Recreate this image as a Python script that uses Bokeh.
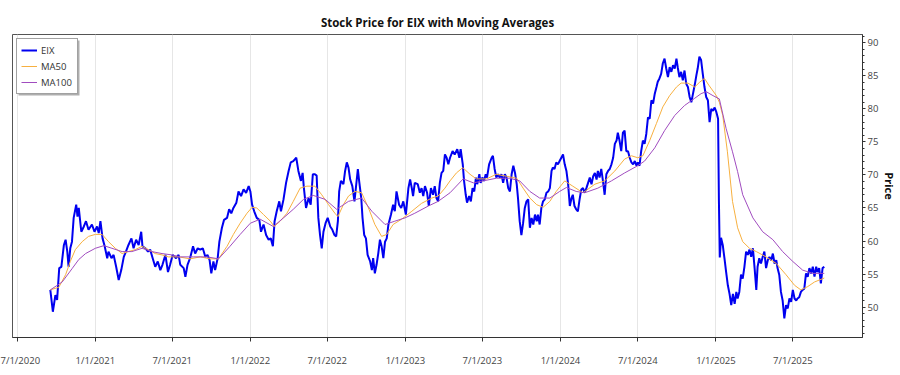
import pandas as pd
from bokeh.plotting import figure
from bokeh.models import (Range1d, FixedTicker, SingleIntervalTicker, BoxAnnotation,
                          CustomJSTickFormatter, Legend, ColumnDataSource)
from bokeh.embed import file_html
from bokeh.resources import INLINE

# ---------------- data ----------------
eix_dates = [
    "2020-09-17", "2020-09-23", "2020-09-29", "2020-10-03", "2020-10-08", "2020-10-13", "2020-10-19",
    "2020-10-23", "2020-10-27", "2020-10-30", "2020-11-03", "2020-11-07", "2020-11-11", "2020-11-17",
    "2020-11-20", "2020-11-23", "2020-11-29", "2020-12-05", "2020-12-10", "2020-12-16", "2020-12-24",
    "2020-12-30", "2021-01-05", "2021-01-09", "2021-01-13", "2021-01-18", "2021-01-23", "2021-01-29",
    "2021-02-01", "2021-02-08", "2021-02-13", "2021-02-19", "2021-02-25", "2021-03-03", "2021-03-09",
    "2021-03-14", "2021-03-20", "2021-03-27", "2021-04-01", "2021-04-07", "2021-04-13", "2021-04-19",
    "2021-04-22", "2021-04-29", "2021-05-05", "2021-05-10", "2021-05-16", "2021-05-22", "2021-05-28",
    "2021-06-03", "2021-06-08", "2021-06-15", "2021-06-21", "2021-06-26", "2021-07-02", "2021-07-10",
    "2021-07-16", "2021-07-20", "2021-07-28", "2021-08-01", "2021-08-06", "2021-08-12", "2021-08-19",
    "2021-08-24", "2021-08-30", "2021-09-05", "2021-09-11", "2021-09-17", "2021-09-22", "2021-09-27",
    "2021-10-01", "2021-10-06", "2021-10-10", "2021-10-16", "2021-10-20", "2021-10-26", "2021-10-31",
    "2021-11-07", "2021-11-12", "2021-11-17", "2021-11-22", "2021-11-29", "2021-12-04", "2021-12-10",
    "2021-12-16", "2021-12-22", "2021-12-28", "2022-01-01", "2022-01-05", "2022-01-10", "2022-01-16",
    "2022-01-22", "2022-01-26", "2022-02-01", "2022-02-07", "2022-02-13", "2022-02-18", "2022-02-23",
    "2022-02-27", "2022-03-04", "2022-03-10", "2022-03-14", "2022-03-20", "2022-03-26", "2022-04-01",
    "2022-04-06", "2022-04-12", "2022-04-19", "2022-04-24", "2022-04-30", "2022-05-04", "2022-05-07",
    "2022-05-12", "2022-05-18", "2022-05-23", "2022-05-28", "2022-06-02", "2022-06-06", "2022-06-10",
    "2022-06-14", "2022-06-18", "2022-06-22", "2022-06-27", "2022-07-02", "2022-07-08", "2022-07-13",
    "2022-07-18", "2022-07-22", "2022-07-26", "2022-07-29", "2022-08-02", "2022-08-08", "2022-08-12",
    "2022-08-16", "2022-08-20", "2022-08-24", "2022-08-29", "2022-09-03", "2022-09-06", "2022-09-11",
    "2022-09-14", "2022-09-19", "2022-09-22", "2022-09-26", "2022-09-30", "2022-10-04", "2022-10-10",
    "2022-10-14", "2022-10-17", "2022-10-21", "2022-10-25", "2022-10-29", "2022-11-02", "2022-11-06",
    "2022-11-10", "2022-11-14", "2022-11-18", "2022-11-22", "2022-11-28", "2022-12-03", "2022-12-07",
    "2022-12-11", "2022-12-17", "2022-12-22", "2022-12-27", "2023-01-02", "2023-01-08", "2023-01-12",
    "2023-01-16", "2023-01-19", "2023-01-23", "2023-01-30", "2023-02-04", "2023-02-08", "2023-02-12",
    "2023-02-16", "2023-02-21", "2023-02-25", "2023-03-02", "2023-03-07", "2023-03-11", "2023-03-15",
    "2023-03-19", "2023-03-23", "2023-03-27", "2023-03-31", "2023-04-04", "2023-04-08", "2023-04-12",
    "2023-04-16", "2023-04-22", "2023-04-27", "2023-05-03", "2023-05-08", "2023-05-11", "2023-05-16",
    "2023-05-19", "2023-05-23", "2023-05-26", "2023-05-31", "2023-06-04", "2023-06-08", "2023-06-12",
    "2023-06-16", "2023-06-19", "2023-06-24", "2023-06-27", "2023-07-01", "2023-07-05", "2023-07-09",
    "2023-07-12", "2023-07-17", "2023-07-23", "2023-07-26", "2023-07-30", "2023-08-03", "2023-08-07",
    "2023-08-11", "2023-08-15", "2023-08-19", "2023-08-23", "2023-08-27", "2023-08-31", "2023-09-04",
    "2023-09-08", "2023-09-12", "2023-09-16", "2023-09-20", "2023-09-23", "2023-09-27", "2023-10-01",
    "2023-10-05", "2023-10-09", "2023-10-13", "2023-10-17", "2023-10-21", "2023-10-25", "2023-10-29",
    "2023-11-02", "2023-11-06", "2023-11-09", "2023-11-13", "2023-11-17", "2023-11-21", "2023-11-25",
    "2023-11-29", "2023-12-03", "2023-12-07", "2023-12-11", "2023-12-14", "2023-12-18", "2023-12-22",
    "2023-12-26", "2023-12-30", "2024-01-03", "2024-01-07", "2024-01-11", "2024-01-15", "2024-01-19",
    "2024-01-23", "2024-01-27", "2024-01-30", "2024-02-03", "2024-02-07", "2024-02-11", "2024-02-15",
    "2024-02-19", "2024-02-23", "2024-02-27", "2024-03-02", "2024-03-06", "2024-03-10", "2024-03-14",
    "2024-03-18", "2024-03-22", "2024-03-26", "2024-03-29", "2024-04-02", "2024-04-06", "2024-04-10",
    "2024-04-14", "2024-04-18", "2024-04-22", "2024-04-26", "2024-04-30", "2024-05-04", "2024-05-08",
    "2024-05-12", "2024-05-15", "2024-05-19", "2024-05-23", "2024-05-27", "2024-05-31", "2024-06-04",
    "2024-06-08", "2024-06-12", "2024-06-16", "2024-06-20", "2024-06-24", "2024-06-28", "2024-07-01",
    "2024-07-05", "2024-07-09", "2024-07-13", "2024-07-17", "2024-07-21", "2024-07-25", "2024-07-29",
    "2024-08-02", "2024-08-06", "2024-08-10", "2024-08-14", "2024-08-17", "2024-08-21", "2024-08-25",
    "2024-08-29", "2024-09-02", "2024-09-06", "2024-09-10", "2024-09-14", "2024-09-18", "2024-09-22",
    "2024-09-26", "2024-09-30", "2024-10-03", "2024-10-07", "2024-10-11", "2024-10-15", "2024-10-19",
    "2024-10-23", "2024-10-27", "2024-10-31", "2024-11-04", "2024-11-08", "2024-11-12", "2024-11-16",
    "2024-11-19", "2024-11-23", "2024-11-27", "2024-12-01", "2024-12-05", "2024-12-09", "2024-12-13",
    "2024-12-17", "2024-12-21", "2024-12-25", "2024-12-29", "2025-01-02", "2025-01-06", "2025-01-08",
    "2025-01-10", "2025-01-13", "2025-01-17", "2025-01-21", "2025-01-25", "2025-01-29", "2025-02-02",
    "2025-02-06", "2025-02-10", "2025-02-14", "2025-02-18", "2025-02-21", "2025-02-25", "2025-03-01",
    "2025-03-05", "2025-03-09", "2025-03-13", "2025-03-17", "2025-03-21", "2025-03-25", "2025-03-29",
    "2025-04-02", "2025-04-06", "2025-04-09", "2025-04-13", "2025-04-17", "2025-04-21", "2025-04-25",
    "2025-04-29", "2025-05-03", "2025-05-07", "2025-05-11", "2025-05-15", "2025-05-19", "2025-05-23",
    "2025-05-26", "2025-05-30", "2025-06-03", "2025-06-07", "2025-06-11", "2025-06-15", "2025-06-19",
    "2025-06-23", "2025-06-27", "2025-07-01", "2025-07-05", "2025-07-09", "2025-07-12", "2025-07-16",
    "2025-07-20", "2025-07-24", "2025-07-28", "2025-08-01", "2025-08-05", "2025-08-09", "2025-08-13",
    "2025-08-17", "2025-08-21", "2025-08-25", "2025-08-28", "2025-09-01", "2025-09-05", "2025-09-09",
    "2025-09-13",
]
eix_close = [
    52.6, 49.3, 51.8, 51.1, 55.9, 56.1, 59.4,
    60.2, 58.4, 56.1, 58.9, 59.9, 63.5, 65.5,
    63.7, 65.0, 61.4, 62.2, 63.0, 61.7, 62.5,
    61.4, 62.2, 61.2, 63.0, 60.4, 59.2, 57.4,
    58.4, 57.4, 57.9, 56.1, 54.1, 55.6, 57.6,
    58.4, 59.4, 60.4, 58.9, 60.2, 59.4, 61.4,
    59.2, 58.9, 58.4, 58.7, 57.4, 56.1, 56.9,
    55.6, 56.4, 57.9, 55.3, 56.4, 57.9, 57.4,
    57.9, 56.4, 55.9, 54.6, 56.4, 57.4, 59.2,
    58.1, 58.9, 58.7, 58.9, 57.6, 57.9, 57.1,
    55.1, 56.9, 55.6, 57.4, 59.9, 62.0, 63.2,
    63.5, 64.8, 64.2, 65.0, 65.8, 67.5, 66.8,
    67.8, 67.3, 68.3, 67.5, 65.5, 64.5, 63.5,
    63.2, 61.4, 62.5, 60.9, 60.2, 60.4, 59.2,
    63.0, 64.5, 66.0, 64.5, 66.3, 68.8, 70.6,
    71.9, 72.1, 72.6, 70.6, 69.1, 70.3, 68.0,
    65.0, 66.5, 65.5, 70.1, 70.1, 69.9, 63.5,
    60.9, 58.9, 61.4, 62.7, 63.5, 62.2, 61.7,
    60.9, 60.7, 63.0, 67.5, 69.1, 68.6, 70.6,
    71.9, 71.1, 69.3, 68.3, 66.0, 67.8, 70.9,
    69.1, 66.5, 63.5, 60.9, 60.4, 57.9, 56.9,
    55.6, 57.4, 55.1, 56.4, 58.1, 60.2, 59.2,
    57.4, 59.9, 60.4, 62.5, 64.0, 65.5, 64.5,
    67.5, 65.5, 65.0, 66.0, 64.0, 68.0, 69.3,
    68.0, 66.8, 68.8, 68.6, 67.3, 68.0, 66.8,
    68.3, 67.3, 65.3, 68.0, 67.0, 68.3, 66.5,
    66.0, 68.8, 70.3, 70.6, 73.1, 72.6, 71.6,
    72.6, 73.6, 73.1, 73.9, 72.6, 73.9, 71.6,
    69.1, 67.0, 65.8, 66.8, 66.0, 68.0, 67.5,
    69.6, 68.6, 70.1, 68.8, 69.6, 69.1, 70.1,
    69.6, 71.6, 72.6, 72.9, 70.9, 69.6, 70.1,
    69.6, 70.1, 68.8, 70.1, 69.6, 68.0, 67.5,
    70.1, 71.4, 70.3, 68.6, 66.5, 63.0, 60.9,
    62.7, 65.0, 66.0, 66.3, 62.0, 63.5, 62.5,
    64.0, 63.0, 64.0, 62.5, 65.0, 66.0, 66.3,
    67.3, 67.5, 68.0, 70.6, 71.1, 70.9, 71.9,
    71.6, 72.1, 72.6, 73.1, 71.6, 70.6, 68.6,
    65.3, 66.5, 67.0, 65.3, 64.8, 64.5, 66.3,
    67.8, 68.0, 67.3, 68.0, 68.8, 69.6, 68.6,
    69.8, 70.3, 69.3, 70.6, 69.6, 70.9, 69.1,
    67.0, 70.1, 70.6, 70.9, 71.6, 72.6, 74.7,
    75.2, 76.4, 75.2, 73.6, 76.4, 76.7, 73.6,
    73.6, 72.6, 71.9, 71.6, 72.1, 71.4, 71.9,
    71.4, 73.6, 75.2, 74.7, 76.2, 78.7, 78.5,
    81.3, 80.8, 82.3, 83.3, 84.1, 84.6, 85.3,
    86.9, 87.6, 86.1, 84.8, 86.3, 85.6, 86.6,
    86.1, 87.6, 86.3, 84.8, 85.6, 84.3, 85.8,
    83.8, 83.3, 81.8, 81.0, 82.3, 83.6, 85.1,
    86.1, 87.9, 87.4, 85.3, 83.3, 81.8, 81.3,
    78.0, 80.0, 79.7, 80.2, 79.5, 78.5, 66.0,
    57.5, 60.5, 59.4, 57.4, 55.3, 53.3, 52.0,
    50.3, 52.0, 50.5, 52.3, 51.3, 52.3, 54.9,
    54.3, 56.1, 58.4, 57.9, 58.7, 57.6, 58.9,
    55.9, 52.6, 56.1, 57.4, 56.6, 57.6, 58.4,
    55.9, 57.1, 57.6, 57.1, 58.1, 56.6, 57.1,
    55.9, 54.9, 52.3, 51.0, 48.3, 50.3, 49.8,
    51.3, 50.8, 52.6, 51.3, 51.0, 51.3, 51.5,
    52.3, 52.6, 52.8, 55.1, 54.6, 55.9, 55.1,
    56.1, 54.6, 56.1, 55.3, 55.9, 53.6, 55.9,
    56.1,
]

ma50_dates = [
    "2020-09-17", "2020-10-07", "2020-10-23", "2020-11-03", "2020-11-15", "2020-12-01", "2020-12-16",
    "2021-01-01", "2021-01-17", "2021-02-01", "2021-02-17", "2021-03-05", "2021-03-20", "2021-04-05",
    "2021-04-21", "2021-05-06", "2021-05-22", "2021-06-07", "2021-06-22", "2021-07-16", "2021-08-12",
    "2021-09-05", "2021-09-28", "2021-10-18", "2021-11-07", "2021-11-22", "2021-12-08", "2021-12-24",
    "2022-01-05", "2022-01-16", "2022-02-01", "2022-02-17", "2022-02-26", "2022-03-12", "2022-03-28",
    "2022-04-12", "2022-04-28", "2022-05-14", "2022-06-02", "2022-06-18", "2022-07-04", "2022-07-19",
    "2022-07-26", "2022-08-08", "2022-08-20", "2022-09-04", "2022-09-20", "2022-10-06", "2022-10-21",
    "2022-11-06", "2022-11-18", "2022-12-03", "2022-12-23", "2023-01-16", "2023-02-08", "2023-03-04",
    "2023-03-19", "2023-04-04", "2023-04-16", "2023-05-01", "2023-05-16", "2023-06-02", "2023-06-17",
    "2023-07-11", "2023-08-03", "2023-08-27", "2023-09-20", "2023-10-05", "2023-10-21", "2023-11-06",
    "2023-11-21", "2023-12-07", "2023-12-22", "2024-01-11", "2024-01-30", "2024-02-23", "2024-03-22",
    "2024-04-14", "2024-05-08", "2024-05-31", "2024-06-16", "2024-07-01", "2024-07-13", "2024-07-29",
    "2024-08-14", "2024-08-29", "2024-09-14", "2024-09-30", "2024-10-11", "2024-10-27", "2024-11-12",
    "2024-11-23", "2024-12-05", "2024-12-15", "2025-01-02", "2025-01-09", "2025-01-17", "2025-01-28",
    "2025-02-09", "2025-02-21", "2025-03-05", "2025-03-21", "2025-04-06", "2025-04-29", "2025-05-23",
    "2025-06-15", "2025-07-05", "2025-07-20", "2025-08-05", "2025-08-21", "2025-09-13",
]
ma50_values = [
    52.6, 53.0, 54.9, 56.9, 58.7, 59.9, 60.7,
    61.0, 61.0, 59.9, 58.9, 58.1, 58.4, 58.7,
    59.2, 58.7, 58.1, 57.9, 57.6, 57.6, 57.3,
    57.6, 57.3, 57.3, 59.2, 61.0, 62.7, 64.2,
    65.1, 65.0, 64.0, 63.0, 62.2, 63.0, 64.2,
    66.0, 68.0, 68.3, 68.3, 67.0, 65.5, 64.2,
    63.7, 65.5, 66.8, 67.5, 67.3, 65.0, 62.5,
    60.7, 61.0, 62.5, 63.3, 64.5, 65.7, 66.5,
    66.8, 68.0, 69.1, 70.3, 71.1, 70.1, 69.4,
    69.4, 70.1, 69.8, 69.5, 68.0, 66.5, 65.5,
    65.1, 66.0, 67.5, 69.1, 68.3, 67.3, 68.6,
    69.1, 70.6, 72.4, 72.9, 72.6, 72.9, 75.2,
    77.8, 80.3, 82.0, 83.3, 83.9, 83.9, 83.3,
    84.0, 84.6, 83.6, 82.0, 81.0, 79.0, 73.5,
    66.0, 62.0, 59.9, 58.9, 58.4, 57.6, 56.6,
    54.9, 53.3, 52.6, 53.1, 53.8, 54.4,
]

ma100_dates = [
    "2020-09-17", "2020-10-15", "2020-11-07", "2020-11-23", "2020-12-09", "2021-01-01", "2021-01-21",
    "2021-02-09", "2021-03-05", "2021-03-28", "2021-04-21", "2021-05-14", "2021-06-07", "2021-06-30",
    "2021-07-20", "2021-08-20", "2021-09-21", "2021-10-18", "2021-11-14", "2021-12-08", "2022-01-01",
    "2022-01-24", "2022-02-24", "2022-03-20", "2022-04-12", "2022-05-06", "2022-05-29", "2022-06-26",
    "2022-07-23", "2022-08-20", "2022-09-20", "2022-10-14", "2022-11-14", "2022-12-07", "2022-12-31",
    "2023-01-23", "2023-02-24", "2023-03-19", "2023-04-16", "2023-05-17", "2023-06-10", "2023-07-03",
    "2023-08-03", "2023-09-04", "2023-09-27", "2023-10-21", "2023-11-13", "2023-12-07", "2023-12-30",
    "2024-01-15", "2024-02-07", "2024-02-27", "2024-03-29", "2024-04-30", "2024-05-31", "2024-07-01",
    "2024-07-17", "2024-08-10", "2024-09-02", "2024-09-26", "2024-10-19", "2024-11-12", "2024-11-27",
    "2024-12-09", "2024-12-25", "2025-01-09", "2025-01-25", "2025-02-09", "2025-02-21", "2025-03-05",
    "2025-03-29", "2025-04-21", "2025-05-15", "2025-06-07", "2025-07-01", "2025-07-24", "2025-08-17",
    "2025-09-13",
]
ma100_values = [
    52.6, 53.8, 55.8, 57.2, 58.1, 58.9, 59.3,
    58.9, 58.4, 58.4, 58.9, 58.4, 58.1, 57.9,
    57.6, 57.6, 57.6, 57.3, 59.2, 61.0, 62.7,
    63.3, 62.2, 63.5, 64.8, 66.3, 66.9, 66.3,
    64.8, 66.0, 66.5, 64.5, 62.5, 63.0, 63.5,
    64.2, 65.3, 66.0, 67.3, 69.4, 68.8, 69.1,
    69.5, 69.5, 69.1, 67.5, 66.5, 66.5, 67.5,
    68.1, 67.5, 67.3, 68.0, 69.1, 70.3, 71.4,
    72.1, 74.1, 76.7, 79.0, 80.5, 81.6, 82.3,
    82.6, 82.0, 81.5, 77.0, 73.5, 70.5, 67.0,
    63.5, 61.4, 60.2, 58.4, 56.9, 55.6, 55.1,
    55.1,
]

x_tick_dates = ["2020-07-01", "2021-01-01", "2021-07-01", "2022-01-01", "2022-07-01", "2023-01-01",
                "2023-07-01", "2024-01-01", "2024-07-01", "2025-01-01", "2025-07-01"]
x_start, x_end = "2020-06-20", "2025-12-12"
y_start, y_end = 45.4, 91.25

FONT = "Open Sans"

# ---------------- figure ----------------
p = figure(width=900, height=375, x_axis_type="datetime", y_axis_location="right",
           output_backend="svg", toolbar_location=None,
           x_range=Range1d(pd.Timestamp(x_start), pd.Timestamp(x_end)),
           y_range=Range1d(y_start, y_end),
           min_border_left=12, min_border_right=26, min_border_top=34, min_border_bottom=38)

src_eix = ColumnDataSource(dict(date=pd.to_datetime(eix_dates), close=eix_close))
src_50 = ColumnDataSource(dict(date=pd.to_datetime(ma50_dates), v=ma50_values))
src_100 = ColumnDataSource(dict(date=pd.to_datetime(ma100_dates), v=ma100_values))

r_eix = p.line("date", "close", source=src_eix, line_color="#0000f0", line_width=2)
r_50 = p.line("date", "v", source=src_50, line_color="#f7b040", line_width=1)
r_100 = p.line("date", "v", source=src_100, line_color="#a04cbf", line_width=1)

# title
p.title.text = "Stock Price for EIX with Moving Averages"
p.title.align = "center"
p.title.text_font = FONT
p.title.text_font_size = "11.5px"
p.title.text_font_style = "bold"
p.title.text_color = "#111111"

# frame
p.background_fill_color = "white"
p.border_fill_color = "white"
p.outline_line_color = "#555555"
p.outline_line_width = 1

# x axis
tick_ms = [pd.Timestamp(d).value // 10**6 for d in x_tick_dates]
p.xaxis.ticker = FixedTicker(ticks=tick_ms, minor_ticks=[])
p.xaxis.formatter = CustomJSTickFormatter(code="""
    const d = new Date(tick);
    return (d.getUTCMonth() + 1) + '/' + d.getUTCDate() + '/' + d.getUTCFullYear();
""")
p.xaxis.axis_line_color = "#333333"
p.xaxis.major_tick_line_color = "#333333"
p.xaxis.major_tick_out = 4
p.xaxis.major_tick_in = 0
p.xaxis.minor_tick_line_color = None
p.xaxis.major_label_text_font = FONT
p.xaxis.major_label_text_font_size = "9.5px"
p.xaxis.major_label_text_color = "#444444"
p.xaxis.major_label_standoff = 12

p.xgrid.grid_line_color = "#e6e6e6"
p.ygrid.grid_line_color = None

# y axis (right)
p.yaxis.ticker = SingleIntervalTicker(interval=5, num_minor_ticks=5)
p.yaxis.axis_line_color = "#333333"
p.yaxis.major_tick_line_color = "#333333"
p.yaxis.minor_tick_line_color = "#333333"
p.yaxis.major_tick_out = 3
p.yaxis.major_tick_in = 0
p.yaxis.minor_tick_out = 2
p.yaxis.minor_tick_in = 0
p.yaxis.major_label_text_font = FONT
p.yaxis.major_label_text_font_size = "9.5px"
p.yaxis.major_label_text_color = "#444444"
p.yaxis.major_label_standoff = 2
p.yaxis.axis_label = "Price"
p.yaxis.axis_label_text_font = FONT
p.yaxis.axis_label_text_font_size = "11px"
p.yaxis.axis_label_text_font_style = "bold"
p.yaxis.axis_label_text_color = "#111111"
p.yaxis.axis_label_standoff = 1

# legend drop shadow: a gray box (canvas pixels) just below/right of the legend box
shadow = BoxAnnotation(left=18, right=79, top=40, bottom=95,
                       left_units="canvas", right_units="canvas",
                       top_units="canvas", bottom_units="canvas",
                       fill_color="#9a9a9a", fill_alpha=0.8, line_color=None, level="annotation")
p.add_layout(shadow)

items = [("EIX", [r_eix]), ("MA50", [r_50]), ("MA100", [r_100])]
legend = Legend(items=items, location="top_left", margin=4, padding=4, spacing=2,
                label_height=14, glyph_height=14, glyph_width=16, label_standoff=4, label_width=32,
                label_text_font=FONT, label_text_font_size="9.5px", label_text_color="#333333",
                background_fill_color="white", background_fill_alpha=1,
                border_line_color="#444444", border_line_width=1)
p.add_layout(legend, "center")

open("out.html", "w").write(file_html(p, INLINE))
